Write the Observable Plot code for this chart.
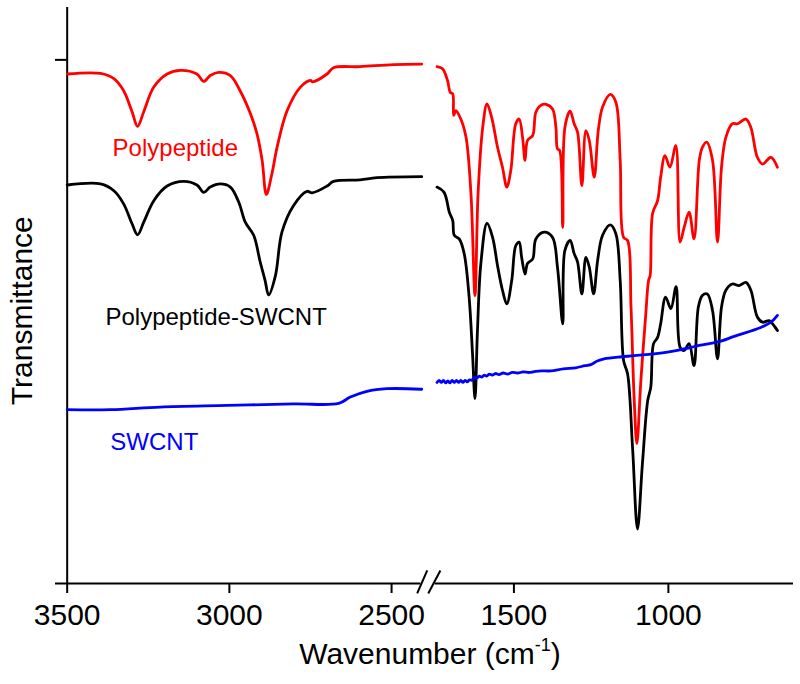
<!DOCTYPE html>
<html><head><meta charset="utf-8">
<script src="https://cdn.jsdelivr.net/npm/d3@7"></script>
<script src="https://cdn.jsdelivr.net/npm/@observablehq/plot@0.6"></script>
<style>
body{margin:0;background:#fff;font-family:"Liberation Sans",Arial,sans-serif;}
#chart{width:800px;height:636px;}
#xtitle{width:800px;height:48px;position:relative;}
#xtitle span{position:absolute;left:430px;top:0;line-height:36px;transform:translateX(-50%);font-size:30px;white-space:nowrap;color:#000}
#xtitle sup{font-size:60%;vertical-align:0.75em;line-height:0}
</style></head><body>
<div id="chart"></div>
<div id="xtitle"><span>Wavenumber (cm<sup>-1</sup>)</span></div>
<script>
// Broken wavenumber axis: two linear pieces meeting at the break
const xDomain = [3536, 2380, 1770, 595];
const xRange = [55, 430, 430, 793];
const xTicks = [3500, 3000, 2500, 1500, 1000];
const yDomain = [0, 110];
const yTicks = [100];

// [wavenumber, transmittance (a.u., offset)]
const redHigh = [[3500,97.3],[3397,97.4],[3356,96.4],[3326,94.1],[3300,90.1],[3283,87.3],[3264,90.1],[3233,94.8],[3192,97.3],[3151,98.0],[3100,97.3],[3079,95.9],[3059,97.0],[3033,97.6],[2997,97.0],[2967,94.1],[2935,89.7],[2915,85.9],[2899,80.8],[2886,74.3],[2869,78.2],[2853,83.3],[2822,90.3],[2781,94.8],[2750,96.1],[2744,95.8],[2699,97.3],[2679,98.5],[2597,98.7],[2494,99.1],[2407,99.2]];
const redLow = [[1749,98.7],[1731,98.3],[1715,96.1],[1706,93.8],[1698,93.5],[1695,89.4],[1688,90.3],[1672,88.7],[1655,85.2],[1639,74.4],[1626,55.0],[1616,74.5],[1601,87.1],[1587,91.6],[1572,89.0],[1553,83.3],[1537,79.5],[1523,75.7],[1510,78.9],[1494,87.8],[1483,88.7],[1472,85.2],[1464,80.8],[1456,84.6],[1439,85.6],[1429,90.0],[1413,91.3],[1396,91.5],[1375,90.6],[1364,87.1],[1359,83.0],[1352,82.7],[1342,68.0],[1335,87.1],[1318,90.2],[1305,87.8],[1294,86.2],[1280,76.0],[1267,86.5],[1256,84.6],[1240,77.6],[1227,86.5],[1213,91.0],[1188,93.4],[1170,91.9],[1156,80.8],[1145,66.1],[1132,65.5],[1121,52.8],[1111,35.6],[1102,26.7],[1089,38.8],[1073,51.6],[1064,57.9],[1059,58.8],[1051,70.7],[1035,73.1],[1025,77.6],[1011,81.7],[995,79.5],[976,83.6],[962,65.2],[949,68.0],[933,70.9],[917,65.8],[900,80.8],[890,83.3],[876,84.3],[857,80.8],[841,65.2],[828,79.5],[814,85.2],[793,87.8],[776,87.8],[749,88.7],[733,87.1],[712,81.4],[695,80.1],[668,81.4],[647,79.5]];
const blackHigh = [[3500,76.1],[3397,76.3],[3356,75.0],[3326,72.5],[3300,68.7],[3283,66.6],[3264,69.0],[3233,73.1],[3192,75.9],[3141,76.8],[3100,76.1],[3079,74.7],[3059,75.7],[3028,76.3],[2997,75.7],[2971,72.8],[2951,69.0],[2925,66.5],[2905,61.4],[2890,57.9],[2879,55.1],[2858,58.8],[2838,67.1],[2802,72.2],[2761,74.9],[2745,74.6],[2699,75.9],[2679,76.8],[2597,77.1],[2545,77.5],[2407,77.7]];
const blackLow = [[1749,75.7],[1726,74.7],[1709,70.9],[1698,69.3],[1693,66.5],[1677,65.8],[1661,63.0],[1645,54.7],[1634,43.9],[1626,35.3],[1618,48.3],[1607,61.1],[1587,68.8],[1569,66.1],[1553,60.7],[1537,56.0],[1523,53.4],[1507,57.9],[1494,64.5],[1483,65.2],[1475,62.3],[1464,59.1],[1456,61.1],[1439,62.0],[1429,65.8],[1402,67.1],[1375,66.1],[1359,60.4],[1342,49.6],[1335,63.6],[1318,65.5],[1305,63.0],[1294,61.4],[1280,55.3],[1267,62.3],[1256,60.4],[1242,55.3],[1229,61.7],[1213,66.5],[1188,68.5],[1170,66.8],[1156,57.9],[1145,42.6],[1132,40.0],[1116,26.0],[1100,10.4],[1084,22.9],[1067,34.9],[1057,37.5],[1048,45.8],[1035,47.0],[1025,49.6],[1009,54.7],[992,52.5],[975,56.7],[962,45.1],[949,44.5],[933,45.8],[917,41.6],[903,52.8],[890,55.0],[874,55.3],[857,52.1],[841,42.9],[828,52.8],[814,56.0],[793,57.2],[771,56.9],[749,57.5],[733,56.0],[712,50.9],[695,49.9],[674,50.2],[663,49.6],[647,48.3]];
const blueHigh = [[3500,33.2],[3367,33.2],[3213,33.7],[3007,34.0],[2802,34.3],[2663,34.4],[2627,35.6],[2576,36.7],[2514,37.2],[2407,37.1]];
const blueLow = [[1749,38.4],[1742,38.8],[1735,38.4],[1728,38.8],[1721,38.3],[1714,38.7],[1707,38.3],[1700,38.8],[1693,38.4],[1686,38.8],[1679,38.4],[1672,38.8],[1665,38.4],[1658,38.8],[1651,38.5],[1644,38.9],[1636,38.8],[1628,39.4],[1620,39.2],[1612,39.6],[1604,39.4],[1596,39.8],[1588,39.6],[1580,40.0],[1570,39.8],[1560,40.1],[1548,39.9],[1535,40.2],[1520,40.0],[1505,40.3],[1488,40.2],[1470,40.4],[1450,40.3],[1430,40.5],[1410,40.6],[1380,40.6],[1340,41.0],[1300,41.2],[1270,41.6],[1251,41.8],[1230,42.5],[1208,42.9],[1150,43.3],[1111,43.5],[1003,44.2],[895,45.5],[830,46.3],[787,47.2],[701,48.9],[668,49.9],[647,51.2]];

const seriesNames = ["Polypeptide", "Polypeptide-SWCNT", "SWCNT"];
const seriesColors = ["#ff0000", "#000000", "#0000ff"];
const labelWn = [3360, 3382, 3367];
const labelT = [83.1, 50.9, 27.0];
const axisTitleY = "Transmittance";
const axisTitleYPos = [3638, 52.1];
// break marks on the x axis: [wn1, t1, wn2, t2]
const breakMarks = [[2421, -1.9, 2390, 2.5], [2387, -1.9, 1738, 2.5]];
const axisPieces = [[3536, 2410], [1755, 595]];

const toRows = (arr, part) => arr.map(([wn, t]) => ({wn, t, part}));
const series = [
  toRows(redHigh, "a").concat(toRows(redLow, "b")),
  toRows(blackHigh, "a").concat(toRows(blackLow, "b")),
  toRows(blueHigh, "a").concat(toRows(blueLow, "b"))
];
const labels = seriesNames.map((n, i) => ({text: n, wn: labelWn[i], t: labelT[i], color: seriesColors[i]}));

const chart = Plot.plot({
  width: 800, height: 636,
  marginTop: 7, marginBottom: 53, marginLeft: 55, marginRight: 7,
  style: {fontFamily: '"Liberation Sans", Arial, sans-serif', fontSize: "30px", background: "#fff", color: "#000", overflow: "visible"},
  x: {type: "linear", domain: xDomain, range: xRange, axis: null},
  y: {type: "linear", domain: yDomain, axis: null},
  marks: [
    ...axisPieces.map(([a, b]) => Plot.ruleY([0], {x1: a, x2: b, stroke: "#000", strokeWidth: 2})),
    Plot.link(breakMarks, {x1: d => d[0], y1: d => d[1], x2: d => d[2], y2: d => d[3], stroke: "#000", strokeWidth: 2}),
    Plot.ruleX([3500], {y1: yDomain[0], y2: yDomain[1], stroke: "#000", strokeWidth: 2}),
    Plot.ruleY(yTicks, {x1: 3536, x2: 3500, stroke: "#000", strokeWidth: 2}),
    Plot.axisX({ticks: xTicks, tickFormat: d3.format("d"), tickSize: 10, tickPadding: 10, fontSize: 30, strokeWidth: 2, label: null, anchor: "bottom"}),
    ...series.map((rows, i) => Plot.line(rows, {x: "wn", y: "t", z: "part", stroke: seriesColors[i], strokeWidth: 2.8, curve: "catmull-rom"})),
    Plot.text(labels, {x: "wn", y: "t", text: "text", fill: "color", fontSize: 24, textAnchor: "start"}),
    Plot.text([axisTitleY], {x: axisTitleYPos[0], y: axisTitleYPos[1], text: d => d, rotate: -90, fontSize: 30, textAnchor: "middle", fill: "#000"})
  ]
});
document.getElementById("chart").appendChild(chart);
</script>
</body></html>
